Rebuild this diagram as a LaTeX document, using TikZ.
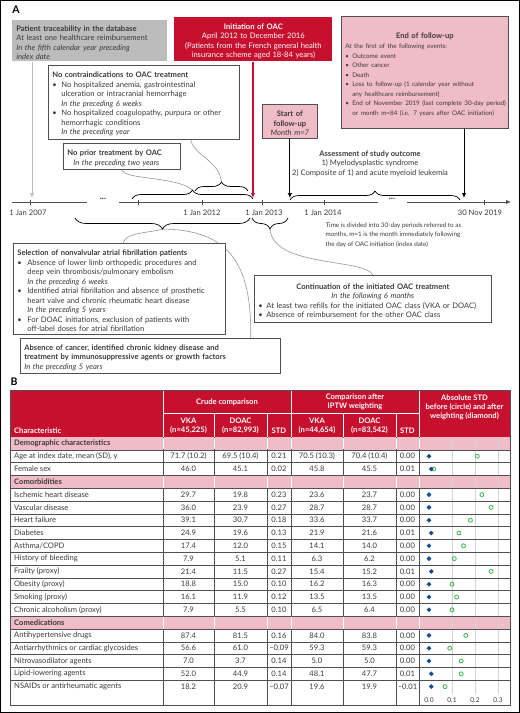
\documentclass[tikz,border=0pt]{standalone}
\usepackage{fontspec}
\setmainfont{Lato}
\usepackage{xcolor}
\usetikzlibrary{positioning, arrows.meta, decorations.pathreplacing, shapes.geometric, backgrounds}

\definecolor{oacred}{RGB}{198,16,46}
\definecolor{oacpink}{RGB}{240,188,199}
\definecolor{oacgrey}{RGB}{188,188,188}
\definecolor{txtgrey}{RGB}{58,58,58}
\definecolor{rulegrey}{RGB}{80,80,80}
\definecolor{linkgrey}{RGB}{150,150,150}
\definecolor{gridgrey}{RGB}{210,210,210}
\definecolor{diablue}{RGB}{22,78,138}
\definecolor{circgreen}{RGB}{60,180,75}

\newcommand{\fsA}{\fontsize{7.6}{9.5}\selectfont}
\newcommand{\fsB}{\fontsize{6.3}{9.5}\selectfont}
\newcommand{\fsT}{\fontsize{7.6}{9}\selectfont}
% one line of a box, never broken
\newcommand{\tline}[1]{\par\noindent\hbox{#1}}
\newcommand{\ctrline}[1]{\par\noindent\hbox to \linewidth{\hss#1\hss}}
\newcommand{\bul}[2][9pt]{\par\noindent\hbox{\hbox to #1{\textbullet\hfil}#2}}
\newcommand{\ind}[2][9pt]{\par\noindent\hbox{\hspace*{#1}#2}}

\tikzset{
  box/.style={draw=rulegrey, line width=0.7pt, fill=white, text=txtgrey, anchor=north west,
    inner xsep=4pt, inner ysep=1.5pt, align=left, font=\fsA},
  tl/.style={line width=0.9pt, -{Latex[length=5pt,width=4.5pt]}},
  link/.style={draw=linkgrey, line width=0.6pt},
  curly/.style={decorate, decoration={brace, amplitude=#1}, line width=0.7pt},
  curlyd/.style={decorate, decoration={brace, mirror, amplitude=#1}, line width=0.7pt},
  yr/.style={text=txtgrey, font=\fsA},
  hd/.style={text=white, font=\fsT\bfseries, align=center, inner sep=0pt},
  cell/.style={text=txtgrey, font=\fsT, inner sep=0pt},
  dmark/.style={diamond, fill=diablue, inner sep=0pt, minimum size=5pt},
  cmark/.style={circle, draw=circgreen, line width=0.8pt, inner sep=0pt, minimum size=4pt},
}

\begin{document}
\begin{tikzpicture}[x=1pt, y=-1pt]
\useasboundingbox (0,0) rectangle (520,713);

% panel A
\node[font=\fontsize{10.5}{12}\selectfont\bfseries] (labA) at (16,10) {A};

\node[box, fill=oacgrey, draw=none, text width=147pt, minimum height=38pt] (trace) at (12,20)
  {\tline{\textbf{Patient traceability in the database}}
   \tline{At least one healthcare reimbursement}
   \tline{\textit{In the fifth calendar year preceding}}
   \tline{\textit{index date}}};
\node[box, fill=oacred, draw=none, text=white, align=center, text width=150pt, minimum height=44pt] (oac) at (174,17)
  {\ctrline{\textbf{Initiation of OAC}}
   \ctrline{April 2012 to December 2016}
   \ctrline{(Patients from the French general health}
   \ctrline{insurance scheme aged 18-84 years)}};
\node[box, fill=oacpink, text width=159pt, minimum height=112pt] (endfu) at (341,16)
  {\ctrline{\textbf{End of follow-up}}\vspace{1pt}
   \fsB
   \tline{At the first of the following events:}
   \bul[7pt]{Outcome event}
   \bul[7pt]{Other cancer}
   \bul[7pt]{Death}
   \bul[7pt]{Loss to follow-up (1 calendar year without}
   \ind[7pt]{any healthcare reimbursement)}
   \bul[7pt]{End of November 2019 (last complete 30-day period)}
   \ind[7pt]{or month m=84 (i.e. 7 years after OAC initiation)}};
\node[box, text width=183pt, minimum height=74pt] (nocontra) at (48,65)
  {\tline{\textbf{No contraindications to OAC treatment}}
   \bul{No hospitalized anemia, gastrointestinal}
   \ind{ulceration or intracranial hemorrhage}
   \ind{\textit{In the preceding 6 weeks}}
   \bul{No hospitalized coagulopathy, purpura or other}
   \ind{hemorrhagic conditions}
   \ind{\textit{In the preceding year}}};
\node[box, text width=109pt, minimum height=26pt] (noprior) at (63,143)
  {\tline{\textbf{No prior treatment by OAC}}
   \ind[6pt]{\textit{In the preceding two years}}};
\node[box, fill=oacpink, align=center, text width=47pt, minimum height=34pt] (start) at (262,104)
  {\ctrline{\textbf{Start of}}\ctrline{\textbf{follow-up}}\ctrline{\textit{Month m=7}}};
\node[yr, align=center] (assess) at (370,163.5)
  {\textbf{Assessment of study outcome}\\1) Myelodysplastic syndrome\\2) Composite of 1) and acute myeloid leukemia};

% timeline
\draw[rulegrey, line width=0.8pt] (12,202) -- (87,202);
\draw[rulegrey, line width=0.8pt] (119,202) -- (378,202);
\draw[tl, rulegrey] (407,202) -- (511,202);
\node[yr, font=\fontsize{9}{10}\selectfont\bfseries] (gapA) at (103,198.5) {...};
\node[yr, font=\fontsize{9}{10}\selectfont\bfseries] (gapB) at (392,198.5) {...};
\foreach \t in {30,138,202,262,324,484}
  \draw[rulegrey, line width=0.7pt] (\t,199.5) -- (\t,204.5);
\foreach \t/\lab in {28/1 Jan 2007, 202/1 Jan 2012, 264/1 Jan 2013, 323/1 Jan 2014, 480/30 Nov 2019}
  \node[yr] (y\t) at (\t,213) {\lab};

\coordinate (hitTrace) at (32,198);
\coordinate (hitOAC) at (253,198);
\coordinate (hitEnd) at (464,198);
\draw[tl, draw=oacgrey, fill=oacgrey] (trace.south -| hitTrace) -- (hitTrace);
\draw[tl, draw=oacred, fill=oacred, line width=1.1pt] (oac.south -| hitOAC) -- (hitOAC);
\draw[tl, draw=black, fill=black] (start.south) -- (start.south |- hitOAC);
\draw[tl, draw=black, fill=black] (endfu.south -| hitEnd) -- (hitEnd);

% braces
\draw[curly=9pt] (132,199) -- (253,199);
\draw[curly=9pt] (195,191) -- (248,191);
\draw[curly=9pt] (290,200) -- (460,200);
\draw[curlyd=11pt] (75,218) -- (250,218);
\draw[curlyd=11pt] (252,218) -- (288,218);
\coordinate (tipA) at (192.5,190);
\coordinate (tipB) at (221.5,182);
\coordinate (tipC) at (162.5,229);
\coordinate (tipD) at (270,229);

\node[yr, font=\fsB, align=left, anchor=north west] (note) at (322,219)
  {Time is divided into 30-day periods referred to as\\months, m=1 is the month immediately following\\the day of OAC initiation (index date)};

\node[box, text width=204pt, minimum height=91pt] (selection) at (13,243)
  {\tline{\textbf{Selection of nonvalvular atrial fibrillation patients}}
   \bul[10pt]{Absence of lower limb orthopedic procedures and}
   \ind[10pt]{deep vein thrombosis/pulmonary embolism}
   \ind[10pt]{\textit{In the preceding 6 weeks}}
   \bul[10pt]{Identified atrial fibrillation and absence of prosthetic}
   \ind[10pt]{heart valve and chronic rheumatic heart disease}
   \ind[10pt]{\textit{In the preceding 5 years}}
   \bul[10pt]{For DOAC initiations, exclusion of patients with}
   \ind[10pt]{off-label doses for atrial fibrillation}};
\node[box, text width=229pt, minimum height=47pt] (cont) at (254,275)
  {\ctrline{\textbf{Continuation of the initiated OAC treatment}}
   \ctrline{\textit{In the following 6 months}}
   \bul[8pt]{At least two refills for the initiated OAC class (VKA or DOAC)}
   \bul[8pt]{Absence of reimbursement for the other OAC class}};
\node[box, text width=252pt, minimum height=35pt] (absence) at (20,338)
  {\tline{\textbf{Absence of cancer, identified chronic kidney disease and}}
   \tline{\textbf{treatment by immunosuppressive agents or growth factors}}
   \tline{\textit{In the preceding 5 years}}};

\begin{scope}[on background layer]
  \draw[link] (noprior.south) .. controls (124,180) and (176,176) .. (tipA);
  \draw[link] ([xshift=-49pt]nocontra.south east) .. controls (194,156) and (219,160) .. (tipB);
  \draw[link] (tipC) .. controls (150,233) and (126,232) .. ([xshift=110pt]selection.north west);
  \draw[link] (tipC) .. controls (228,230) and (252,262) .. ([xshift=-30pt]absence.north east);
  \draw[link] (tipD) .. controls (273,268) and (365,258) .. (cont.north);
\end{scope}

% panel B
\node[font=\fontsize{10.5}{12}\selectfont\bfseries] (labB) at (14,382) {B};
\fill[oacred] (10,390) rectangle (510,437);
\foreach \r in {0,3,14}
  \fill[oacpink] (10,{437+\r*12.8}) rectangle (510,{437+\r*12.8+12.8});
\foreach \v in {0.1,0.2,0.3}
  \draw[gridgrey, line width=0.8pt] ({429+230*\v},437) -- ({429+230*\v},694);
\foreach \r in {1,...,19}
  \draw[rulegrey, line width=0.6pt] (10,{437+\r*12.8}) -- (510,{437+\r*12.8});
\foreach \x in {163,214,267,291,343,396,419}
  \draw[rulegrey, line width=0.6pt] (\x,437) -- (\x,705);
\foreach \r in {0,3,14}
  \foreach \x in {163,214,267,291,343,396,419}
    \draw[white, line width=1pt] (\x,{437+\r*12.8+0.5}) -- (\x,{437+\r*12.8+12.3});
\draw[white, line width=1pt] (163,390) -- (163,437) (291,390) -- (291,437) (419,390) -- (419,437) (163,413) -- (419,413);
\foreach \x in {214,267,343,396}
  \draw[white, line width=1pt] (\x,413) -- (\x,437);
\draw[rulegrey, line width=0.7pt] (10,390) rectangle (510,705);

\node[hd, anchor=west] (hchar) at (14,431) {Characteristic};
\node[hd] (hcrude) at (227,402) {Crude comparison};
\node[hd] (hiptw) at (355,402) {Comparison after\\IPTW weighting};
\node[hd] (habs) at (464.5,407.5) {Absolute STD\\before (circle) and after\\weighting (diamond)};
\node[hd] (hvka1) at (188.5,426.2) {VKA\\(n=45,225)};
\node[hd] (hdoac1) at (240.5,426.2) {DOAC\\(n=82,993)};
\node[hd] (hstd1) at (279,430.7) {STD};
\node[hd] (hvka2) at (317,426.2) {VKA\\(n=44,654)};
\node[hd] (hdoac2) at (369.5,426.2) {DOAC\\(n=83,542)};
\node[hd] (hstd2) at (407.5,430.7) {STD};

\foreach \r/\sec in {0/Demographic characteristics, 3/Comorbidities, 14/Comedications}
  \node[cell, font=\fsT\bfseries, anchor=west] (sec\r) at (14,{437+(\r+0.5)*12.8}) {\sec};

\foreach \r/\name/\va/\da/\sa/\vb/\db/\sb/\pa/\pb in {
  1/{Age at index date, mean (SD), y}/71.7 (10.2)/69.5 (10.4)/0.21/70.5 (10.3)/70.4 (10.4)/0.00/0.21/0.00,
  2/Female sex/46.0/45.1/0.02/45.8/45.5/0.01/0.02/0.01,
  4/Ischemic heart disease/29.7/19.8/0.23/23.6/23.7/0.00/0.23/0.00,
  5/Vascular disease/36.0/23.9/0.27/28.7/28.7/0.00/0.27/0.00,
  6/Heart failure/39.1/30.7/0.18/33.6/33.7/0.00/0.18/0.00,
  7/Diabetes/24.9/19.6/0.13/21.9/21.6/0.01/0.13/0.01,
  8/{Asthma/COPD}/17.4/12.0/0.15/14.1/14.0/0.00/0.15/0.00,
  9/History of bleeding/7.9/5.1/0.11/6.3/6.2/0.00/0.11/0.00,
  10/Frailty (proxy)/21.4/11.5/0.27/15.4/15.2/0.01/0.27/0.01,
  11/Obesity (proxy)/18.8/15.0/0.10/16.2/16.3/0.00/0.10/0.00,
  12/Smoking (proxy)/16.1/11.9/0.12/13.5/13.5/0.00/0.12/0.00,
  13/Chronic alcoholism (proxy)/7.9/5.5/0.10/6.5/6.4/0.00/0.10/0.00,
  15/Antihypertensive drugs/87.4/81.5/0.16/84.0/83.8/0.00/0.16/0.00,
  16/Antiarrhythmics or cardiac glycosides/56.6/61.0/--0.09/59.3/59.3/0.00/0.09/0.00,
  17/Nitrovasodilator agents/7.0/3.7/0.14/5.0/5.0/0.00/0.14/0.00,
  18/Lipid-lowering agents/52.0/44.9/0.14/48.1/47.7/0.01/0.14/0.01,
  19/NSAIDs or antirheumatic agents/18.2/20.9/--0.07/19.6/19.9/--0.01/0.07/0.01}{
  \node[cell, anchor=west] (nm\r) at (14,{437+(\r+0.5)*12.8}) {\name};
  \node[cell] (va\r) at (188.5,{437+(\r+0.5)*12.8}) {\va};
  \node[cell] (da\r) at (240.5,{437+(\r+0.5)*12.8}) {\da};
  \node[cell] (sa\r) at (279,{437+(\r+0.5)*12.8}) {\sa};
  \node[cell] (vb\r) at (317,{437+(\r+0.5)*12.8}) {\vb};
  \node[cell] (db\r) at (369.5,{437+(\r+0.5)*12.8}) {\db};
  \node[cell] (sb\r) at (407.5,{437+(\r+0.5)*12.8}) {\sb};
  \node[cmark] (pc\r) at ({429+230*\pa},{437+(\r+0.5)*12.8}) {};
  \node[dmark] (pd\r) at ({429+230*\pb},{437+(\r+0.5)*12.8}) {};
}
\foreach \v in {0.0,0.1,0.2,0.3}
  \node[cell, font=\fontsize{6.6}{7}\selectfont] (ax\v) at ({429+230*\v},700) {\v};

\draw[black, line width=1pt] (0.5,0.5) rectangle (519.5,712.5);
\end{tikzpicture}
\end{document}
